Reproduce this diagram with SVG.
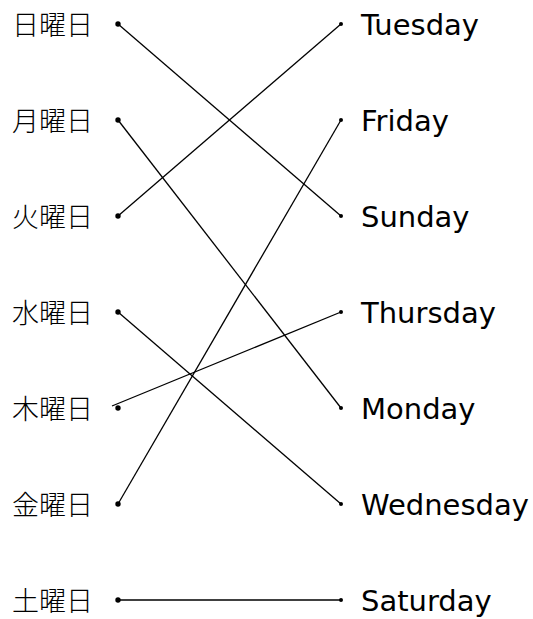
<svg xmlns="http://www.w3.org/2000/svg" width="533" height="619" viewBox="0 0 533 619">
<style>
.jp{font-family:"Noto Sans CJK JP",sans-serif;font-size:27px;font-weight:300;fill:#000}
.en{font-family:"DejaVu Sans",sans-serif;font-size:29px;fill:#000}
.dot{fill:#000}
#connectors line{stroke:#000;stroke-width:1.3}
</style>
<rect width="533" height="619" fill="#fff"/>
<g id="connectors">
<line x1="118" y1="24" x2="341" y2="216"/>
<line x1="118" y1="120" x2="341" y2="408"/>
<line x1="118" y1="216" x2="341" y2="24"/>
<line x1="118" y1="312" x2="341" y2="504"/>
<line x1="112" y1="406" x2="341" y2="312"/>
<line x1="118" y1="504" x2="341" y2="120"/>
<line x1="118" y1="600" x2="341" y2="600"/>
</g>
<g id="sun-jp"><text class="jp" x="12" y="35">日曜日</text><circle class="dot" cx="118" cy="24" r="2.7"/></g>
<g id="mon-jp"><text class="jp" x="12" y="131">月曜日</text><circle class="dot" cx="118" cy="120" r="2.7"/></g>
<g id="tue-jp"><text class="jp" x="12" y="227">火曜日</text><circle class="dot" cx="118" cy="216" r="2.7"/></g>
<g id="wed-jp"><text class="jp" x="12" y="323">水曜日</text><circle class="dot" cx="118" cy="312" r="2.7"/></g>
<g id="thu-jp"><text class="jp" x="12" y="419">木曜日</text><circle class="dot" cx="118" cy="408" r="2.7"/></g>
<g id="fri-jp"><text class="jp" x="12" y="515">金曜日</text><circle class="dot" cx="118" cy="504" r="2.7"/></g>
<g id="sat-jp"><text class="jp" x="12" y="611">土曜日</text><circle class="dot" cx="118" cy="600" r="2.7"/></g>
<g id="tuesday"><circle class="dot" cx="341" cy="24" r="2"/><text class="en" x="361" y="35">Tuesday</text></g>
<g id="friday"><circle class="dot" cx="341" cy="120" r="2"/><text class="en" x="361" y="131">Friday</text></g>
<g id="sunday"><circle class="dot" cx="341" cy="216" r="2"/><text class="en" x="361" y="227">Sunday</text></g>
<g id="thursday"><circle class="dot" cx="341" cy="312" r="2"/><text class="en" x="361" y="323">Thursday</text></g>
<g id="monday"><circle class="dot" cx="341" cy="408" r="2"/><text class="en" x="361" y="419">Monday</text></g>
<g id="wednesday"><circle class="dot" cx="341" cy="504" r="2"/><text class="en" x="361" y="515">Wednesday</text></g>
<g id="saturday"><circle class="dot" cx="341" cy="600" r="2"/><text class="en" x="361" y="611">Saturday</text></g>
</svg>
